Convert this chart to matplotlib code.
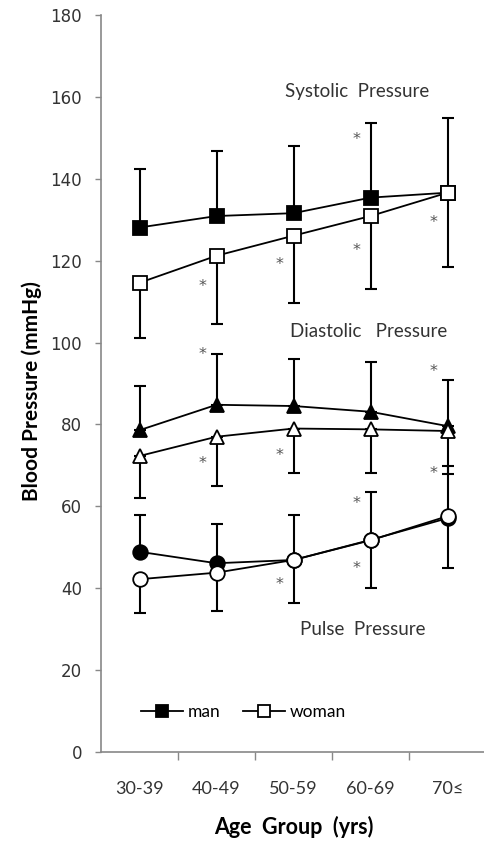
import numpy as np
import matplotlib
matplotlib.use("Agg")
import matplotlib.pyplot as plt

# age groups
groups = ['30-39', '40-49', '50-59', '60-69', '70≤']

# systolic (man = upper bar, woman = lower bar)
sys_man = [128.1, 130.9, 131.6, 135.4, 136.6]
sys_man_up = [142.3, 146.9, 148.0, 153.7, 154.8]
sys_woman = [114.6, 121.2, 126.1, 130.9, 136.6]
sys_woman_lo = [101.2, 104.6, 109.7, 113.2, 118.5]

# diastolic
dia_man = [78.6, 84.8, 84.5, 83.1, 79.6]
dia_man_up = [89.4, 97.1, 95.9, 95.2, 90.9]
dia_woman = [72.3, 77.0, 79.0, 78.8, 78.4]
dia_woman_lo = [62.0, 65.0, 68.1, 68.1, 68.0]

# pulse
pul_man = [48.9, 46.1, 46.9, 51.8, 57.1]
pul_man_up = [57.8, 55.6, 57.8, 63.6, 69.9]
pul_woman = [42.2, 43.8, 46.9, 51.7, 57.6]
pul_woman_lo = [34.0, 34.4, 36.3, 40.0, 44.9]

# significance marks (group index, value)
ast_grp = [3, 1, 2, 3, 4, 1, 1, 2, 4, 4, 2, 3, 3]
ast_val = [149.5, 113.7, 119.0, 122.6, 129.2, 97.0, 70.5, 72.5, 92.9, 67.9, 41.0, 44.7, 60.7]

fig = plt.figure(figsize=(4.85, 8.42), dpi=100)
ax = fig.add_axes([101 / 485, 1 - 752 / 842, 385 / 485, 737 / 842])

x = np.arange(len(groups))
ms = 10.5
ebkw = dict(fmt='none', ecolor='black', elinewidth=1.5, capsize=4, capthick=1.5, zorder=2)


def series(val, bar, marker, filled, up, label=None):
    val = np.array(val)
    bar = np.array(bar)
    if up:
        err = [np.zeros_like(val), bar - val]
    else:
        err = [val - bar, np.zeros_like(val)]
    ax.errorbar(x, val, yerr=err, **ebkw)
    ln, = ax.plot(x, val, color='black', lw=1.3, marker=marker, ms=ms,
                  mfc='black' if filled else 'white', mec='black', mew=1.3,
                  zorder=3, label=label)
    return ln


h_man = series(sys_man, sys_man_up, 's', True, True, 'man')
h_woman = series(sys_woman, sys_woman_lo, 's', False, False, 'woman')
series(dia_man, dia_man_up, '^', True, True)
series(dia_woman, dia_woman_lo, '^', False, False)
series(pul_man, pul_man_up, 'o', True, True)
series(pul_woman, pul_woman_lo, 'o', False, False)

for g, v in zip(ast_grp, ast_val):
    ax.text(g - 0.18, v, '*', ha='center', va='center', fontsize=11.5,
            color='#555555', family='DejaVu Sans')

ax.text(2.82, 161.2, 'Systolic  Pressure', ha='center', va='center',
        fontsize=13.5, color='#333333', family='Lato')
ax.text(2.97, 102.8, 'Diastolic   Pressure', ha='center', va='center',
        fontsize=13.5, color='#333333', family='Lato')
ax.text(2.90, 30.0, 'Pulse  Pressure', ha='center', va='center',
        fontsize=13.5, color='#333333', family='Lato')

ax.set_xlim(-0.5, len(groups) - 0.5)
ax.set_ylim(0, 180)
ax.set_yticks(np.arange(0, 181, 20))
ax.set_xticks(x)
ax.set_xticklabels(groups, family='Lato', fontsize=13, color='#333333')
ax.set_xticks(np.arange(0.5, len(groups) - 0.5, 1), minor=True)
ax.tick_params(axis='x', which='major', length=0, pad=21)
ax.tick_params(axis='x', which='minor', length=6, width=1, color='#888888', direction='out')
ax.tick_params(axis='y', length=4.5, width=1, color='#888888', pad=9,
               labelsize=12, labelcolor='#333333')
for t in ax.get_yticklabels():
    t.set_family('DejaVu Sans')

for s in ['top', 'right']:
    ax.spines[s].set_visible(False)
for s in ['left', 'bottom']:
    ax.spines[s].set_color('#888888')
    ax.spines[s].set_linewidth(1.2)

ax.set_ylabel('Blood Pressure (mmHg)', family='Lato', fontweight='bold',
              fontsize=15, va='center')
ax.yaxis.set_label_coords(-0.18, 0.49)
ax.set_xlabel('Age  Group  (yrs)', family='Lato', fontweight='bold',
              fontsize=15.5, va='center')
ax.xaxis.set_label_coords(0.5, -0.102)

ax.legend(handles=[h_man, h_woman], loc='center left', bbox_to_anchor=(0.104, 0.054),
          ncol=2, frameon=False, borderpad=0, borderaxespad=0, handlelength=2.4,
          handletextpad=0.3, columnspacing=1.3, markerscale=0.85,
          prop={'family': 'Lato', 'size': 12.5})

fig.savefig('out.png', dpi=100)
